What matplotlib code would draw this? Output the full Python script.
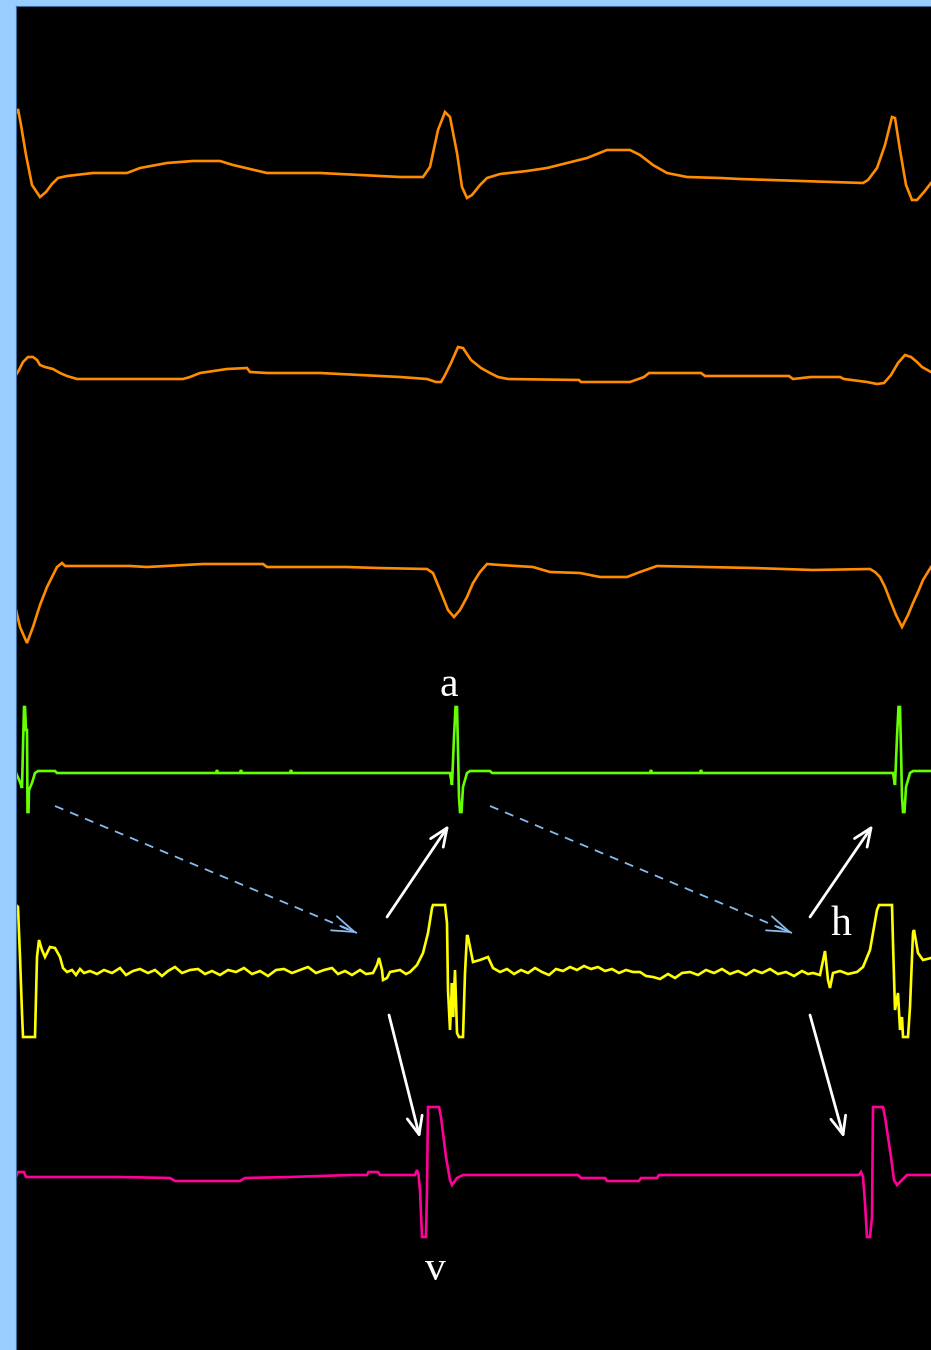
import matplotlib
matplotlib.use("Agg")
import matplotlib.pyplot as plt

# intracardiac recording, two beats; (sample, deflection) pairs, deflection positive = up
lead1 = [(16, 62), (18, 66), (21, 50), (26, 20), (32, -10), (40, -22), (46, -17), (52, -9),
         (58, -3), (67, -1), (93, 2), (127, 2), (140, 7), (167, 12), (193, 14), (220, 14),
         (233, 10), (250, 6), (267, 2), (320, 2), (400, -2), (423, -2), (430, 8), (438, 45),
         (445, 63), (450, 58), (457, 22), (462, -12), (467, -23), (472, -20), (480, -10),
         (487, -3), (500, 1), (527, 4), (547, 7), (567, 12), (587, 17), (607, 25), (630, 25),
         (640, 20), (653, 10), (667, 2), (687, -2), (720, -3), (740, -4), (863, -8), (868, -5),
         (877, 7), (885, 30), (892, 58), (895, 57), (900, 25), (906, -10), (912, -25),
         (917, -25), (924, -17), (931, -8)]

lead2 = [(16, 3), (19, 8), (23, 16), (28, 21), (33, 21), (37, 18), (40, 13), (45, 11), (53, 9),
         (60, 5), (67, 2), (77, -1), (183, -1), (190, 1), (200, 5), (227, 9), (247, 10), (250, 6),
         (267, 5), (320, 5), (400, 1), (427, -1), (436, -4), (441, -4), (444, 1), (451, 15),
         (458, 31), (463, 30), (471, 18), (481, 10), (490, 5), (498, 1), (508, -1), (579, -2),
         (581, -4), (630, -4), (644, 1), (649, 5), (701, 5), (705, 2), (789, 2), (793, -1),
         (811, 1), (840, 1), (844, -1), (867, -4), (877, -6), (884, -5), (891, 3), (898, 15),
         (905, 23), (911, 21), (917, 16), (922, 11), (931, 6)]

lead3 = [(16, -43), (20, -60), (27, -76), (33, -60), (40, -38), (47, -20), (57, 0), (62, 4),
         (65, 1), (130, 1), (147, 0), (203, 3), (263, 3), (267, 0), (347, 0), (377, -1),
         (427, -2), (433, -6), (440, -23), (448, -43), (454, -50), (460, -43), (467, -30),
         (473, -16), (480, -5), (487, 3), (500, 2), (533, 0), (550, -5), (580, -6), (600, -10),
         (627, -10), (640, -5), (657, 1), (753, -1), (813, -3), (870, -2), (875, -5), (880, -10),
         (885, -20), (890, -33), (896, -48), (902, -60), (908, -48), (913, -36), (918, -25),
         (923, -13), (931, 0)]

atrial = [(16, 0), (20, -9), (22, -15), (23, 26), (24, 66), (25, 66), (26, 43), (27, 43),
          (27.5, -39), (28.5, -39), (29, -17), (32, -10), (35, 0), (38, 2), (55, 2), (57, 0),
          (216, 0), (217, 3), (218, 0), (240, 0), (241, 3), (242, 0), (290, 0), (291, 3),
          (292, 0), (450, 0), (452, -12), (454, 36), (455.5, 66), (457, 66), (458, 23),
          (459, -24), (460, -39), (461.5, -39), (463, -14), (467, 0), (470, 2), (490, 2),
          (492, 0), (650, 0), (651, 3), (652, 0), (700, 0), (701, 3), (702, 0), (893, 0),
          (895, -12), (897, 36), (898.5, 66), (900, 66), (901, 23), (902, -24), (903, -39),
          (904.5, -39), (906, -14), (910, 0), (913, 2), (931, 2)]

his = [(16, 67), (18, 65), (20, 15), (22, -41), (23, -65), (35, -65), (36, -23), (37, 15),
       (39, 32), (42, 22), (45, 15), (50, 25), (55, 24), (60, 15), (63, 4), (67, 0),
       (72, 2), (76, -3), (80, 3), (84, -1), (90, 1), (97, -2), (104, 2), (112, -1), (120, 4),
       (126, -3), (133, 1), (140, 3), (148, -1), (155, 2), (162, -4), (168, 1), (175, 5),
       (182, -1), (190, 2), (198, 3), (205, -2), (212, 1), (220, -3), (228, 2), (236, 0),
       (244, 4), (252, -2), (260, 1), (268, -4), (276, 2), (284, 3), (292, -1), (300, 2),
       (308, 5), (316, -1), (324, 2), (332, 4), (338, -2), (345, 1), (352, -3), (360, 2),
       (366, -2), (373, -1), (377, 7), (379, 14), (382, 2), (383, -8), (387, -6), (390, 0),
       (400, 2), (406, -2), (410, 0), (417, 7), (423, 19), (428, 39), (432, 64), (433, 67),
       (445, 67), (447, 49), (448, -18), (450, -58), (452, -11), (453, -45), (455, 2),
       (457, -61), (459, -65), (463, -65), (465, -1), (467, 37), (468, 35), (472, 15),
       (473, 10), (480, 12), (488, 15), (493, 4), (500, 0),
       (507, 3), (514, -2), (521, 2), (528, -1), (535, 4), (542, 0), (549, -3), (556, 3),
       (563, 1), (570, 5), (577, 2), (584, 6), (591, 3), (598, 5), (605, 1), (612, 3),
       (619, -1), (626, 2), (633, 0), (640, 0), (646, -4), (653, -5), (660, -7), (668, -2),
       (675, -6), (682, -1), (690, 0), (698, -3), (706, 2), (714, -1), (722, 3), (730, -2),
       (738, 1), (746, -3), (754, 2), (762, -1), (770, 3), (778, -2), (786, 0), (794, -4),
       (802, 1), (808, -2), (813, -1), (820, -3), (825, 21), (828, -8), (830, -16), (833, -1),
       (840, 1), (848, -2), (857, 0), (863, 5), (870, 22), (877, 62), (879, 67), (892, 67),
       (893, 29), (895, -38), (898, -21), (900, -58), (902, -45), (903, -65), (908, -65),
       (910, -35), (913, 39), (914, 42), (918, 19), (923, 12), (931, 14)]

ventricular = [(16, -2), (18, 3), (24, 3), (26, -2), (120, -2), (170, -3), (175, -6), (240, -6),
               (245, -3), (290, -2), (350, 0), (367, 0), (368.5, 3), (378, 3), (380, 0),
               (415, 0), (417, 5), (418.5, 0), (420, -15), (422, -62), (426, -62), (427, -15),
               (428, 68), (439, 68), (441, 58), (446, 18), (450, -5), (452, -10), (457, -3),
               (461, -1), (463, 0), (578, 0), (581, -3), (605, -3), (607, -6), (639, -6),
               (641, -3), (657, -3), (659, 0), (859, 0), (861, 3), (863, -2), (865, -28),
               (867, -62), (870, -62), (872, -42), (873, 68), (883, 68), (885, 58), (891, 18),
               (894, -5), (897, -10), (904, -3), (907, 0), (931, 0)]

traces = [lead1, lead2, lead3, atrial, his, ventricular]
colors = ["#ff8c00", "#ff8c00", "#ff8c00", "#66ff00", "#ffff00", "#ff0099"]
baselines = [175, 378, 567, 773, 972, 1175]   # pixel rows of each channel

fig = plt.figure(figsize=(9.31, 13.5), dpi=100, facecolor="#99ccff")
ax = fig.add_axes([16 / 931, 0, 915 / 931, 1344 / 1350])
ax.set_facecolor("black")
ax.set_xlim(16, 931)
ax.set_ylim(-1350, -6)
ax.set_xticks([])
ax.set_yticks([])
for s in ax.spines.values():
    s.set_visible(False)
ax.spines["left"].set_visible(True)
ax.spines["top"].set_visible(True)
ax.spines["left"].set_color("#3a6b9a")
ax.spines["top"].set_color("#3a6b9a")

for pts, c, b in zip(traces, colors, baselines):
    t = [p[0] for p in pts]
    v = [p[1] - b for p in pts]
    ax.plot(t, v, color=c, lw=1.9, solid_joinstyle="miter")

# labels
font = dict(family="Liberation Serif", color="white", fontsize=30, ha="center", va="center")
ax.text(449, -686, "a", **font)
ax.text(841, -925, "h", **font)
ax.text(435, -1270, "v", **font)

white = dict(arrowstyle="->, head_length=1.3, head_width=0.55", color="white", lw=2,
             shrinkA=0, shrinkB=0)
ax.annotate("", xy=(449, -825), xytext=(387, -917), arrowprops=white)
ax.annotate("", xy=(873, -825), xytext=(810, -917), arrowprops=white)
ax.annotate("", xy=(420, -1138), xytext=(389, -1015), arrowprops=white)
ax.annotate("", xy=(844, -1138), xytext=(810, -1015), arrowprops=white)

# dashed conduction arrows: dashed shaft, solid open head
blue_c = "#88bbee"
blue_head = dict(arrowstyle="->, head_length=1.6, head_width=0.55", color=blue_c, lw=1.3,
                 shrinkA=0, shrinkB=0)
for (x0, y0), (x1, y1) in [((55, -806), (357, -933)), ((490, -806), (792, -933))]:
    ax.plot([x0, x1], [y0, y1], color=blue_c, lw=1.3, ls=(0, (5, 4)))
    ax.annotate("", xy=(x1, y1), xytext=(x1 - (x1 - x0) * 0.05, y1 - (y1 - y0) * 0.05),
                arrowprops=blue_head)

fig.savefig("out.png", dpi=100, facecolor=fig.get_facecolor())
